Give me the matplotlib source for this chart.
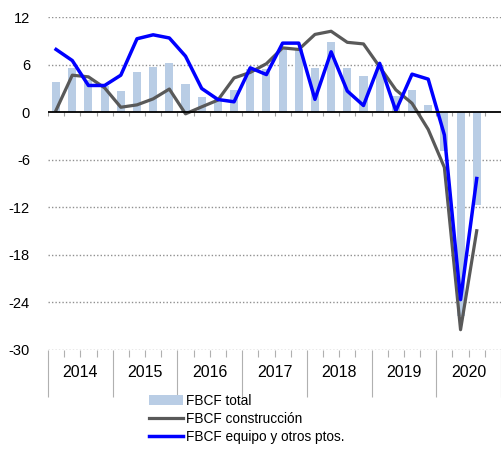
import matplotlib
matplotlib.use("Agg")
import matplotlib.pyplot as plt
import numpy as np

plt.rcParams["font.family"] = ["Liberation Sans", "DejaVu Sans"]
plt.rcParams["axes.unicode_minus"] = False

years = ["2014", "2015", "2016", "2017", "2018", "2019", "2020"]
fbcf_total = [3.8, 5.5, 4.0, 3.3, 2.6, 5.1, 5.7, 6.2, 3.5, 1.9, 1.6, 2.75,
              5.4, 5.4, 7.9, 8.0, 5.5, 8.85, 5.6, 4.5, 5.8, 2.0, 2.8, 0.9,
              -4.9, -25.8, -11.8]
fbcf_construccion = [0.23, 4.65, 4.44, 3.05, 0.6, 0.9, 1.66, 2.9, -0.23, 0.65, 1.5, 4.3,
                     5.0, 6.1, 8.1, 7.9, 9.8, 10.2, 8.8, 8.6, 5.7, 2.8, 1.1, -2.2,
                     -7.0, -27.5, -15.0]
fbcf_equipo = [7.9, 6.5, 3.35, 3.35, 4.65, 9.25, 9.75, 9.35, 7.05, 2.97, 1.58, 1.29,
               5.58, 4.73, 8.7, 8.7, 1.6, 7.6, 2.65, 0.82, 6.15, 0.15, 4.78, 4.15,
               -2.9, -23.7, -8.4]

n_slots = 4 * len(years)
x = np.arange(len(fbcf_total))

fig = plt.figure(figsize=(5.02, 4.49), dpi=100)
ax = fig.add_axes([48 / 502, 1 - 349.5 / 449, 453 / 502, 332.5 / 449])

bars = ax.bar(x, fbcf_total, width=0.5, color="#b9cde5", label="FBCF total", zorder=2)
l_con, = ax.plot(x, fbcf_construccion, color="#595959", lw=2.3, label="FBCF construcción", zorder=3)
l_eq, = ax.plot(x, fbcf_equipo, color="#0000ff", lw=2.5, label="FBCF equipo y otros ptos.", zorder=4)

ax.set_xlim(-0.5, n_slots - 0.5)
ax.set_ylim(-30, 12)
ax.set_yticks(np.arange(-30, 13, 6))
ax.tick_params(axis="y", length=0, pad=13, labelsize=10.5)
for y in np.arange(-30, 13, 6):
    if y != 0:
        ax.axhline(y, color="#909090", lw=1, ls=(0, (1, 1.5)), zorder=1)
ax.axhline(0, color="black", lw=1.3, zorder=5)

# quarter ticks on the zero line
bounds = np.arange(-0.5, n_slots, 1.0)
ax.vlines(bounds, -0.5, 0, color="#a0a0a0", lw=0.8, zorder=1)

for s in ax.spines.values():
    s.set_visible(False)

# category axis at the bottom
year_bounds = np.arange(-0.5, n_slots, 4.0)
ax.set_xticks(year_bounds)
ax.set_xticks([b for b in bounds if (b + 0.5) % 4 != 0], minor=True)
ax.tick_params(axis="x", which="major", length=34, color="#b0b0b0", width=0.8, labelbottom=False)
ax.tick_params(axis="x", which="minor", length=5, color="#b0b0b0", width=0.8)
for i, yr in enumerate(years):
    ax.text(4 * i + 1.5, -0.07, yr, transform=ax.get_xaxis_transform(),
            ha="center", va="center", fontsize=11.5)

fig.legend(handles=[bars, l_con, l_eq], loc="upper left",
           bbox_to_anchor=(149 / 502, 1 - 394 / 449), frameon=False,
           fontsize=9.8, handlelength=2.5, handletextpad=0.2, labelspacing=0.3,
           borderpad=0, borderaxespad=0)

fig.savefig("out.png", dpi=100)
plt.close(fig)
